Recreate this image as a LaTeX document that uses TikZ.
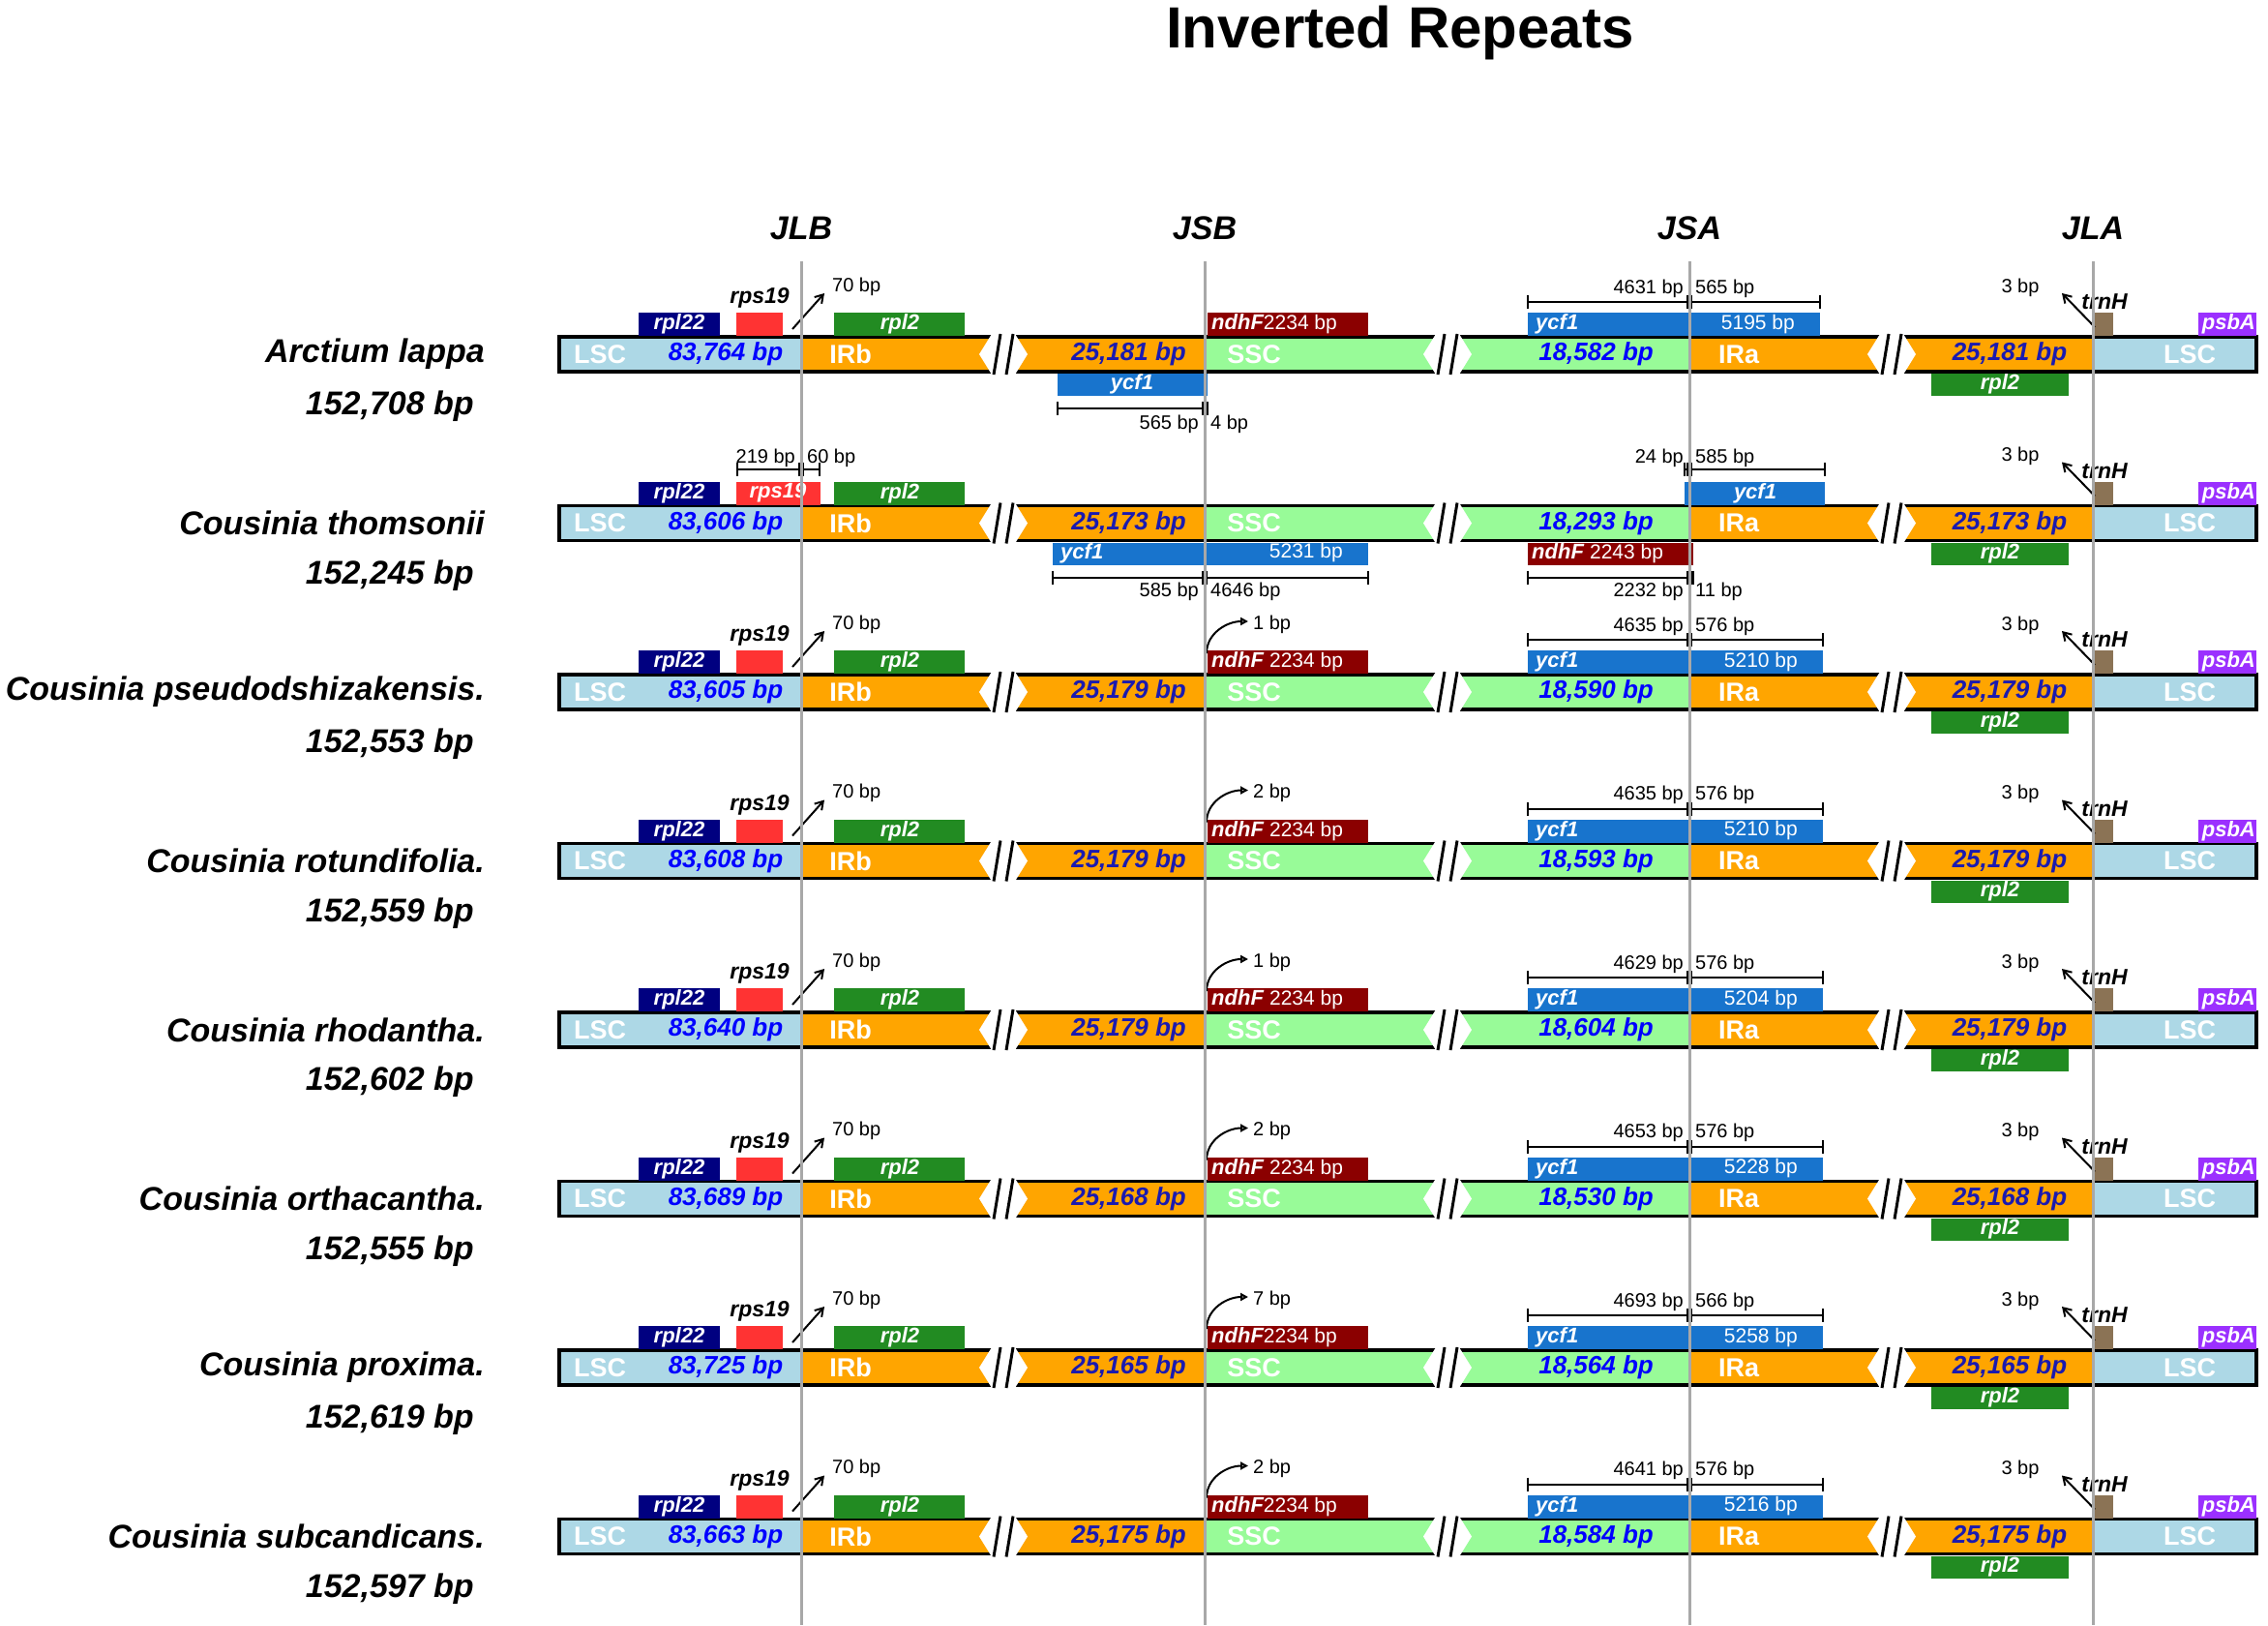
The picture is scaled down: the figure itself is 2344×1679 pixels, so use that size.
\documentclass[tikz,border=0pt]{standalone}
\usepackage{fontspec}
\setmainfont{Liberation Sans}
\usetikzlibrary{arrows.meta}
\definecolor{lscC}{HTML}{ADD8E6}
\definecolor{irC}{HTML}{FFA500}
\definecolor{sscC}{HTML}{98FB98}
\definecolor{rplA}{HTML}{000080}
\definecolor{rpsC}{HTML}{FF3333}
\definecolor{rplB}{HTML}{228B22}
\definecolor{ycfC}{HTML}{1874CD}
\definecolor{ndhC}{HTML}{8B0000}
\definecolor{trnC}{HTML}{8B7355}
\definecolor{psbC}{HTML}{9B30FF}
\definecolor{cntA}{HTML}{0000FF}
\definecolor{cntB}{HTML}{1A1AB0}
\definecolor{jlineC}{HTML}{A8A8A8}
\newcommand\fsz[1]{\fontsize{#1bp}{#1bp}\selectfont}
\newcommand\numtxt[1]{{\mdseries\upshape\fsz{21}#1}}
\tikzset{
  lab/.style={inner sep=0pt, font=\fsz{22}\bfseries\itshape, text=white},
  gn/.style={inner sep=0pt, font=\fsz{23}\bfseries\itshape, text=black},
  seg/.style={inner sep=0pt, font=\fsz{27}\bfseries, text=white},
  cnt/.style={inner sep=0pt, font=\fsz{26}\bfseries\itshape},
  msr/.style={inner sep=0pt, font=\fsz{20}},
  hd/.style={inner sep=0pt, font=\fsz{34}\bfseries\itshape},
  nm/.style={inner sep=0pt, font=\fsz{34}\bfseries\itshape},
  mline/.style={line width=2},
  arr/.style={line width=2, -{Straight Barb[length=8bp,width=10bp]}},
  arrc/.style={line width=2, -{Triangle[open,length=8bp,width=8bp]}},
}
\newcommand\brkmark[2]{%
  \fill[white] (#1-25,#2) -- (#1-12,#2-21) -- (#1+12,#2-21) -- (#1+25,#2) -- (#1+12,#2+21) -- (#1-12,#2+21) -- cycle;
  \draw[line width=3] (#1-10,#2+21) -- (#1-3,#2-21) (#1+3,#2+21) -- (#1+10,#2-21);}
\newcommand\measline[7]{%
  \draw[mline] (#1,#4) -- (#2-2,#4) (#2+2,#4) -- (#3,#4);
  \foreach \tk in {#1,#2-2,#2+2,#3} \draw[mline] (\tk,#4-7) -- (\tk,#4+7);
  \node[msr,anchor=east] at (#2-6,#7) {#5};
  \node[msr,anchor=west] at (#2+6,#7) {#6};}
\newcommand\rowcommon[6]{%
  \fill[lscC] (578,#1-18) rectangle (828,#1+18);
  \fill[irC] (828,#1-18) rectangle (1245,#1+18);
  \fill[sscC] (1245,#1-18) rectangle (1746,#1+18);
  \fill[irC] (1746,#1-18) rectangle (2163,#1+18);
  \fill[lscC] (2163,#1-18) rectangle (2332,#1+18);
  \draw[line width=3.5] (578,#1-18) rectangle (2332,#1+18);
  \brkmark{1037}{#1}\brkmark{1496}{#1}\brkmark{1955}{#1}
  \node[seg] at (620,#1) {LSC};
  \node[cnt,text=cntA] at (750,#1) {#4};
  \node[seg] at (879,#1) {IRb};
  \node[cnt,text=cntB,anchor=east] at (1226,#1) {#5};
  \node[seg] at (1296,#1) {SSC};
  \node[cnt,text=cntA,anchor=east] at (1709,#1) {#6};
  \node[seg] at (1797,#1) {IRa};
  \node[cnt,text=cntB] at (2077,#1) {#5};
  \node[seg] at (2263,#1) {LSC};
  \fill[rplA] (660,#1-43) rectangle (744,#1-19); \node[lab] at (702,#1-31) {rpl22};
  \fill[rplB] (862,#1-43) rectangle (997,#1-19); \node[lab] at (930,#1-31) {rpl2};
  \fill[rplB] (1996,#1+20) rectangle (2138,#1+43); \node[lab] at (2067,#1+31) {rpl2};
  \fill[trnC] (2163,#1-43) rectangle (2184,#1-19);
  \node[gn] at (2175,#1-54) {trnH};
  \fill[psbC] (2272,#1-43) rectangle (2332,#1-19); \node[lab,anchor=east] at (2331,#1-31) {psbA};
  \draw[arr] (2165,#1-28) -- (2131,#1-63);
  \node[msr] at (2088,#1-69) {3 bp};
  \node[nm,anchor=east] at (501,#1) {#2};
  \node[nm,anchor=east] at (490,#1+54) {#3};}
\newcommand\rpsstd[1]{%
  \fill[rpsC] (761,#1-43) rectangle (809,#1-19);
  \node[gn] at (785,#1-58) {rps19};
  \draw[arr] (819,#1-26) -- (852,#1-63);
  \node[msr,anchor=west] at (860,#1-70) {70 bp};}
\newcommand\ndhtop[3]{%
  \fill[ndhC] (1248,#1-43) rectangle (1414,#1-19);
  \node[lab,anchor=west] at (1252,#1-31) {ndhF#2\numtxt{2234 bp}};
  \draw[arrc] (1247,#1-40) to[out=90,in=180] (1290,#1-73);
  \node[msr,anchor=west] at (1295,#1-70) {#3};}
\newcommand\ycftop[5]{%
  \fill[ycfC] (1579,#1-43) rectangle (#2,#1-19);
  \node[lab,anchor=west] at (1587,#1-31) {ycf1};
  \node[lab,anchor=east] at (#2-26,#1-31) {\numtxt{#3}};
  \measline{1579}{1746}{#2}{#1-54}{#4}{#5}{#1-68}}
\begin{document}
\begin{tikzpicture}[x=1bp,y=-1bp]
\useasboundingbox (0,0) rectangle (2344,1679);
\node[inner sep=0pt, font=\fsz{60}\bfseries, anchor=base] (title) at (1447,50) {Inverted Repeats};
% Row 1
\rowcommon{366}{Arctium lappa}{152,708 bp}{83,764 bp}{25,181 bp}{18,582 bp}
\rpsstd{366}
\fill[ndhC] (1248,366-43) rectangle (1414,366-19);
\node[lab,anchor=west] at (1252,366-31) {ndhF\numtxt{2234 bp}};
\ycftop{366}{1881}{5195 bp}{4631 bp}{565 bp}
\fill[ycfC] (1093,366+20) rectangle (1248,366+43);
\node[lab] at (1170,366+31) {ycf1};
\measline{1093}{1245}{1248}{366+56}{565 bp}{4 bp}{366+72}
% Row 2
\rowcommon{540.5}{Cousinia thomsonii}{152,245 bp}{83,606 bp}{25,173 bp}{18,293 bp}
\fill[rpsC] (761,540.5-43) rectangle (848,540.5-19);
\node[lab] at (804,540.5-31) {rps19};
\measline{762}{828}{847}{540.5-56}{219 bp}{60 bp}{540.5-67}
\fill[ycfC] (1088,540.5+20) rectangle (1414,540.5+43);
\node[lab,anchor=west] at (1096,540.5+31) {ycf1};
\node[lab,anchor=east] at (1388,540.5+31) {\numtxt{5231 bp}};
\measline{1088}{1245}{1414}{540.5+56}{585 bp}{4646 bp}{540.5+71}
\fill[ndhC] (1579,540.5+20) rectangle (1750,540.5+43);
\node[lab,anchor=west] at (1583,540.5+31) {ndhF \numtxt{2243 bp}};
\measline{1579}{1746}{1750}{540.5+56}{2232 bp}{11 bp}{540.5+71}
\fill[ycfC] (1741,540.5-43) rectangle (1886,540.5-19);
\node[lab] at (1814,540.5-31) {ycf1};
\measline{1741}{1746}{1886}{540.5-56}{24 bp}{585 bp}{540.5-67}
% Row 3
\rowcommon{715}{Cousinia pseudodshizakensis.}{152,553 bp}{83,605 bp}{25,179 bp}{18,590 bp}
\rpsstd{715}\ndhtop{715}{ }{1 bp}\ycftop{715}{1884}{5210 bp}{4635 bp}{576 bp}
% Row 4
\rowcommon{889.5}{Cousinia rotundifolia.}{152,559 bp}{83,608 bp}{25,179 bp}{18,593 bp}
\rpsstd{889.5}\ndhtop{889.5}{ }{2 bp}\ycftop{889.5}{1884}{5210 bp}{4635 bp}{576 bp}
% Row 5
\rowcommon{1064}{Cousinia rhodantha.}{152,602 bp}{83,640 bp}{25,179 bp}{18,604 bp}
\rpsstd{1064}\ndhtop{1064}{ }{1 bp}\ycftop{1064}{1884}{5204 bp}{4629 bp}{576 bp}
% Row 6
\rowcommon{1238.5}{Cousinia orthacantha.}{152,555 bp}{83,689 bp}{25,168 bp}{18,530 bp}
\rpsstd{1238.5}\ndhtop{1238.5}{ }{2 bp}\ycftop{1238.5}{1884}{5228 bp}{4653 bp}{576 bp}
% Row 7
\rowcommon{1413}{Cousinia proxima.}{152,619 bp}{83,725 bp}{25,165 bp}{18,564 bp}
\rpsstd{1413}\ndhtop{1413}{}{7 bp}\ycftop{1413}{1884}{5258 bp}{4693 bp}{566 bp}
% Row 8
\rowcommon{1587.5}{Cousinia subcandicans.}{152,597 bp}{83,663 bp}{25,175 bp}{18,584 bp}
\rpsstd{1587.5}\ndhtop{1587.5}{}{2 bp}\ycftop{1587.5}{1884}{5216 bp}{4641 bp}{576 bp}
% junction lines
\foreach \x/\t in {828/JLB,1245/JSB,1746/JSA,2163/JLA} {
  \draw[jlineC, line width=3] (\x,270) -- (\x,1679);
  \node[hd] (\t) at (\x,236) {\t};
}
\end{tikzpicture}
\end{document}
